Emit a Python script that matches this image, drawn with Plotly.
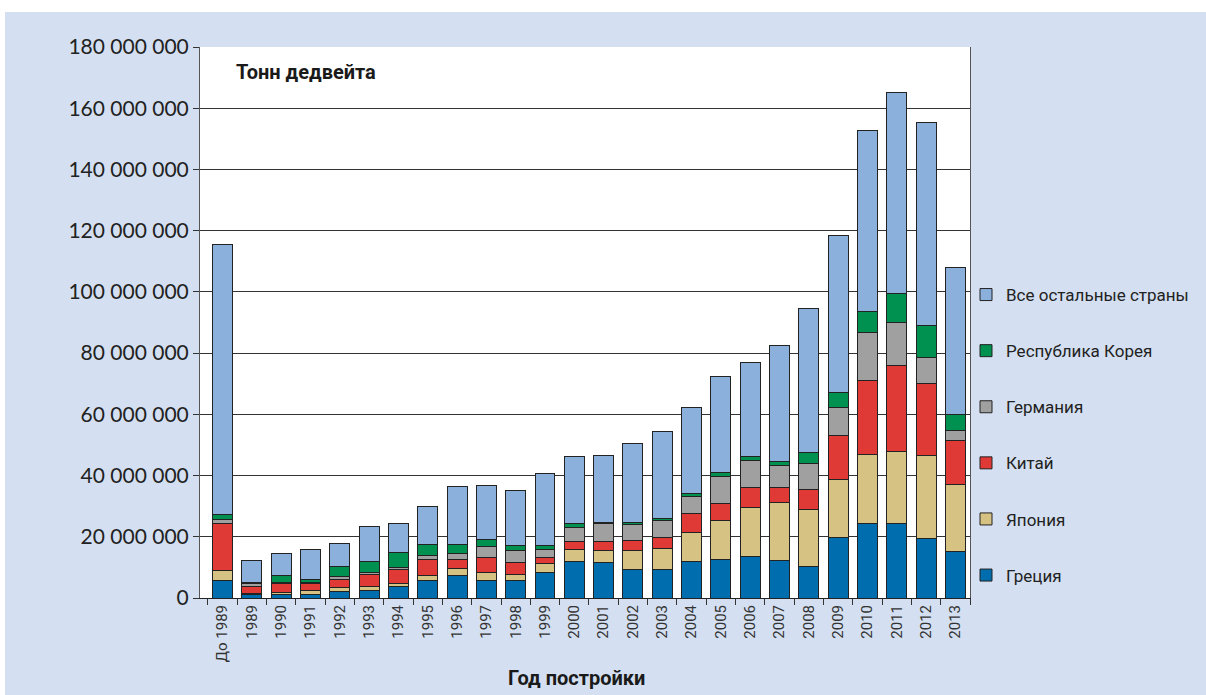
import numpy as np
import plotly.graph_objects as go

categories = ["До 1989", "1989", "1990", "1991", "1992", "1993", "1994", "1995", "1996",
              "1997", "1998", "1999", "2000", "2001", "2002", "2003", "2004", "2005",
              "2006", "2007", "2008", "2009", "2010", "2011", "2012", "2013"]

# values in millions of deadweight tonnes
greece  = [5.7, 1.0, 1.3, 1.3, 2.1, 2.4, 3.6, 5.6, 7.2, 5.7, 5.6, 8.2, 11.9, 11.7, 9.2, 9.2,
           11.9, 12.7, 13.7, 12.2, 10.4, 19.9, 24.2, 24.2, 19.6, 15.2]
japan   = [3.2, 0.5, 0.5, 1.1, 1.2, 1.3, 1.0, 1.8, 2.3, 2.7, 2.1, 3.2, 3.8, 3.8, 6.3, 7.1,
           9.5, 12.6, 16.0, 19.0, 18.4, 18.8, 22.6, 23.6, 26.9, 21.9]
china   = [15.5, 2.4, 2.8, 2.2, 2.6, 3.9, 4.6, 5.2, 3.2, 4.7, 3.9, 1.9, 2.7, 3.1, 3.3, 3.5,
           6.2, 5.7, 6.3, 5.0, 6.6, 14.4, 24.2, 28.2, 23.5, 14.2]
germany = [1.1, 0.7, 0.6, 0.5, 1.1, 0.7, 0.8, 1.4, 1.7, 3.8, 3.8, 2.6, 4.7, 5.6, 5.1, 5.5,
           5.5, 8.7, 8.8, 7.0, 8.4, 9.0, 15.7, 14.1, 8.5, 3.4]
korea   = [1.8, 0.5, 2.1, 1.0, 3.2, 3.6, 4.9, 3.4, 3.2, 2.2, 1.9, 1.1, 1.4, 0.4, 0.7, 0.8,
           1.0, 1.3, 1.3, 1.5, 3.6, 5.0, 6.9, 9.3, 10.5, 5.1]
others  = [88.2, 7.0, 7.4, 9.6, 7.6, 11.5, 9.3, 12.6, 18.7, 17.8, 17.9, 23.8, 21.8, 22.0,
           25.9, 28.4, 28.0, 31.4, 30.9, 37.7, 47.3, 51.2, 59.1, 65.8, 66.4, 48.2]

series_names = ["Греция", "Япония", "Китай", "Германия", "Республика Корея", "Все остальные страны"]
series_colors = ["#006eae", "#d6c282", "#e03a36", "#a0a0a0", "#00904f", "#8cb0dc"]

ytick_vals = [0, 20e6, 40e6, 60e6, 80e6, 100e6, 120e6, 140e6, 160e6, 180e6]
ytick_text = ["0", "20 000 000", "40 000 000", "60 000 000", "80 000 000", "100 000 000",
              "120 000 000", "140 000 000", "160 000 000", "180 000 000"]

BG = "#d4e0f1"
fig = go.Figure()
n = len(series_names)
for i, (name, vals, col) in enumerate(zip(series_names,
                                          [greece, japan, china, germany, korea, others],
                                          series_colors)):
    fig.add_trace(go.Bar(
        x=categories, y=np.array(vals) * 1e6, name=name, legendgroup=name,
        legendrank=n - i,
        marker=dict(color=col, line=dict(color="#222222", width=1)),
    ))

L, R, T, B = 200, 236, 47, 97
W, H = 1206, 695
pw, ph = W - L - R, H - T - B

fig.update_layout(
    width=W, height=H, barmode="stack", bargap=0.32,
    paper_bgcolor=BG, plot_bgcolor="white",
    margin=dict(l=L, r=R, t=T, b=B, pad=0, autoexpand=False),
    font=dict(family="Roboto", color="#222222"),
    legend=dict(
        x=(966 - L) / pw, xanchor="left",
        y=(H - B - 277) / ph, yanchor="top",
        traceorder="grouped", tracegroupgap=31,
        font=dict(family="Roboto", size=17, color="#222222"),
        bgcolor="rgba(0,0,0,0)", itemwidth=30,
    ),
    xaxis=dict(
        type="category", tickangle=-90, tickson="boundaries",
        range=[-0.77, 25.5],
        ticks="outside", ticklen=6, tickcolor="#333333",
        tickfont=dict(family="Roboto", size=15, color="#333333"),
        showline=True, linecolor="#222222", linewidth=1,
    ),
    yaxis=dict(
        range=[0, 180e6], tickvals=ytick_vals, ticktext=ytick_text,
        ticks="outside", ticklen=6, tickcolor="#333333",
        tickfont=dict(family="Lato", size=21, color="#222222"),
        showgrid=True, gridcolor="#333333", gridwidth=1,
        showline=True, linecolor="#555555", linewidth=1, mirror=True,
        zeroline=False,
    ),
    shapes=[
        dict(type="rect", xref="paper", yref="paper",
             x0=-L / pw, x1=(W - L) / pw, y0=1 + (T - 12) / ph, y1=1 + T / ph,
             fillcolor="white", line=dict(width=0), layer="below"),
        dict(type="rect", xref="paper", yref="paper",
             x0=-L / pw, x1=(5 - L) / pw, y0=-B / ph, y1=1 + T / ph,
             fillcolor="white", line=dict(width=0), layer="below"),
    ],
    annotations=[
        dict(text="<b>Тонн дедвейта</b>", xref="paper", yref="paper",
             x=(234 - L) / pw, y=(H - B - 72) / ph, xanchor="left", yanchor="middle",
             showarrow=False, font=dict(family="Roboto", size=20, color="#1a1a1a")),
        dict(text="<b>Год постройки</b>", xref="paper", yref="paper",
             x=(576 - L) / pw, y=(H - B - 678) / ph, xanchor="center", yanchor="middle",
             showarrow=False, font=dict(family="Roboto", size=20, color="#1a1a1a")),
    ],
)

fig.write_html("out.html", config={"displayModeBar": False},
               post_script="document.body.style.margin='0';document.body.style.overflow='hidden';")
